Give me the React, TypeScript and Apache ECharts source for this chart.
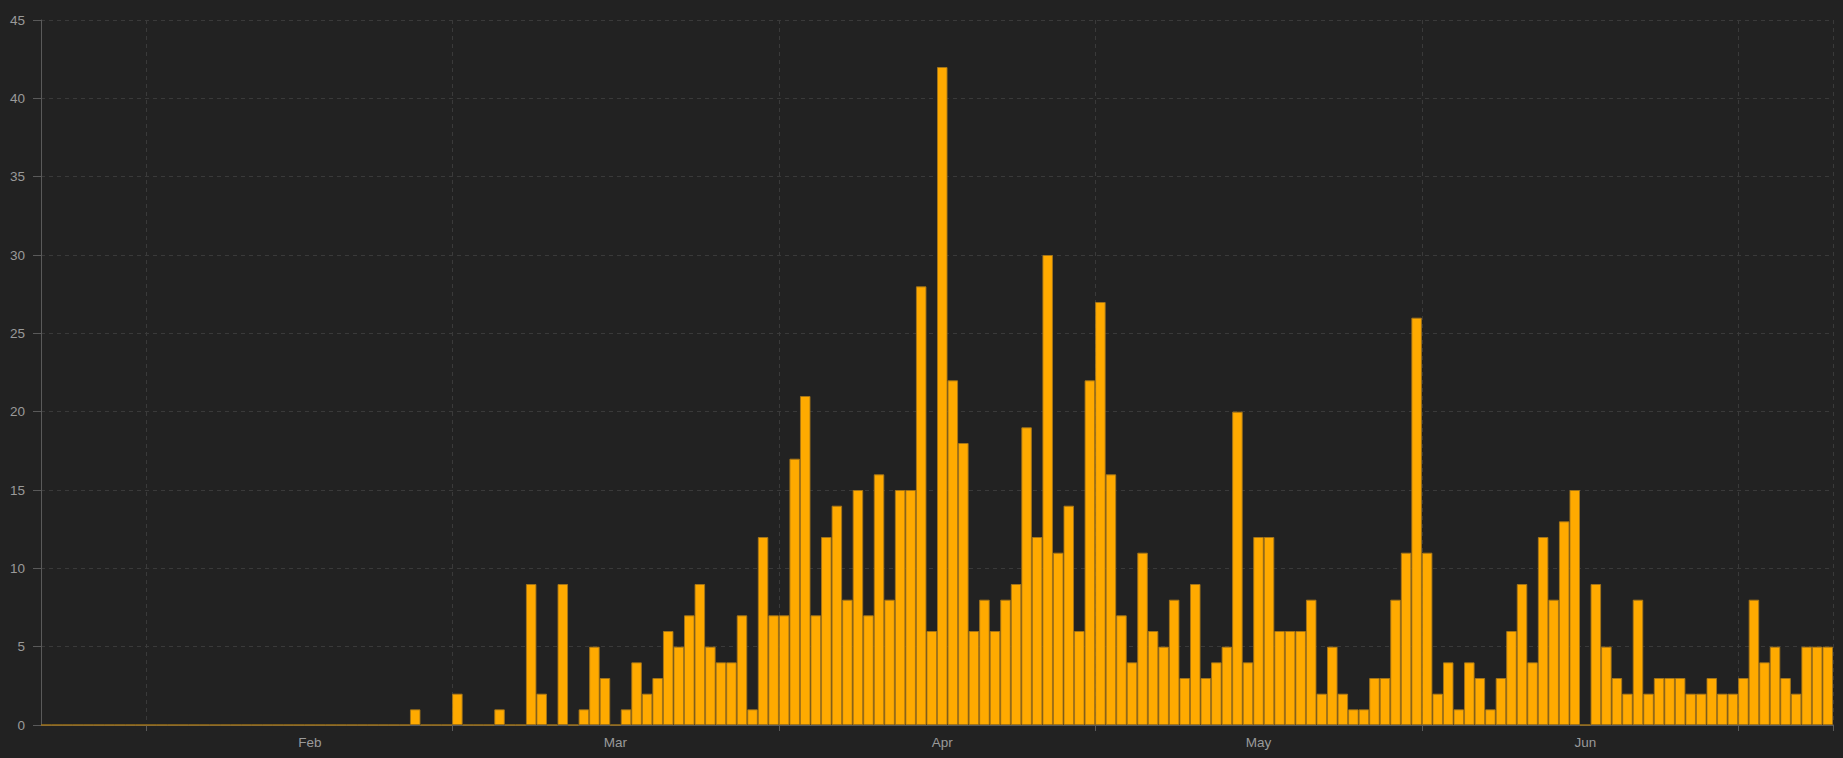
import React, { useEffect, useRef } from "react";
import * as echarts from "echarts";

// Daily values, Jan 22 – Jul 9 (2020)
const janValues = [0, 0, 0, 0, 0, 0, 0, 0, 0, 0]; // Jan 22-31
const febValues = [
  0, 0, 0, 0, 0, 0, 0, 0, 0, 0, 0, 0, 0, 0, 0, 0, 0, 0, 0, 0, 0, 0, 0, 0, 0, 1, 0, 0, 0,
];
const marValues = [
  2, 0, 0, 0, 1, 0, 0, 9, 2, 0, 9, 0, 1, 5, 3, 0, 1, 4, 2, 3, 6, 5, 7, 9, 5, 4, 4, 7, 1, 12, 7,
];
const aprValues = [
  7, 17, 21, 7, 12, 14, 8, 15, 7, 16, 8, 15, 15, 28, 6, 42, 22, 18, 6, 8, 6, 8, 9, 19, 12, 30, 11, 14, 6, 22,
];
const mayValues = [
  27, 16, 7, 4, 11, 6, 5, 8, 3, 9, 3, 4, 5, 20, 4, 12, 12, 6, 6, 6, 8, 2, 5, 2, 1, 1, 3, 3, 8, 11, 26,
];
const junValues = [
  11, 2, 4, 1, 4, 3, 1, 3, 6, 9, 4, 12, 8, 13, 15, 0, 9, 5, 3, 2, 8, 2, 3, 3, 3, 2, 2, 3, 2, 2,
];
const julValues = [3, 8, 4, 5, 3, 2, 5, 5, 5];

const monthBlocks: { month: string; label: string; firstDay: number; values: number[] }[] = [
  { month: "01", label: "Jan", firstDay: 22, values: janValues },
  { month: "02", label: "Feb", firstDay: 1, values: febValues },
  { month: "03", label: "Mar", firstDay: 1, values: marValues },
  { month: "04", label: "Apr", firstDay: 1, values: aprValues },
  { month: "05", label: "May", firstDay: 1, values: mayValues },
  { month: "06", label: "Jun", firstDay: 1, values: junValues },
  { month: "07", label: "Jul", firstDay: 1, values: julValues },
];

const yTicks = { min: 0, max: 45, interval: 5 };

const categories: string[] = [];
const values: number[] = [];
const monthLabelByNum: Record<string, string> = {};
monthBlocks.forEach((b) => {
  monthLabelByNum[b.month] = b.label;
  b.values.forEach((v, i) => {
    const d = b.firstDay + i;
    categories.push(`2020-${b.month}-${d < 10 ? "0" + d : d}`);
    values.push(v);
  });
});

const TEXT = "#9a9a9a";
const AXIS = "#5a5a5a";
const GRID = "#3a3a3a";
const FONT = "'Liberation Sans', Arial, sans-serif";

export default function App() {
  const ref = useRef<HTMLDivElement>(null);
  useEffect(() => {
    if (!ref.current) return;
    const chart = echarts.init(ref.current, undefined, { renderer: "svg" });
    chart.setOption({
      animation: false,
      backgroundColor: "#222222",
      grid: { left: 41, right: 10, top: 20, bottom: 33, containLabel: false },
      xAxis: {
        type: "category",
        data: categories,
        boundaryGap: true,
        axisLine: { show: true, lineStyle: { color: AXIS, width: 1 } },
        axisTick: {
          show: true,
          length: 6,
          interval: (_i: number, v: string) => v.endsWith("-01"),
          lineStyle: { color: AXIS },
        },
        axisLabel: {
          interval: (_i: number, v: string) => v.endsWith("-16"),
          formatter: (v: string) => monthLabelByNum[v.slice(5, 7)] || "",
          color: TEXT,
          fontSize: 13.5,
          fontFamily: FONT,
          margin: 10,
        },
        splitLine: {
          show: true,
          interval: (_i: number, v: string) => v.endsWith("-01"),
          lineStyle: { color: GRID, type: [4, 4], width: 1 },
        },
      },
      yAxis: {
        type: "value",
        min: yTicks.min,
        max: yTicks.max,
        interval: yTicks.interval,
        axisLine: { show: true, lineStyle: { color: AXIS, width: 1 } },
        axisTick: { show: true, length: 8, lineStyle: { color: AXIS } },
        axisLabel: { color: TEXT, fontSize: 13.5, fontFamily: FONT, margin: 16 },
        splitLine: { show: true, lineStyle: { color: GRID, type: [4, 4], width: 1 } },
      },
      series: [
        {
          type: "bar",
          data: values,
          barCategoryGap: "0%",
          barGap: "0%",
          z: 3,
          itemStyle: {
            color: "#ffaa00",
            borderColor: "rgba(165,118,25,0.9)",
            borderWidth: 1,
          },
        },
      ],
    });
    return () => chart.dispose();
  }, []);
  return (
    <div
      ref={ref}
      style={{ position: "fixed", left: 0, top: 0, width: 1843, height: 758, background: "#222222" }}
    />
  );
}
